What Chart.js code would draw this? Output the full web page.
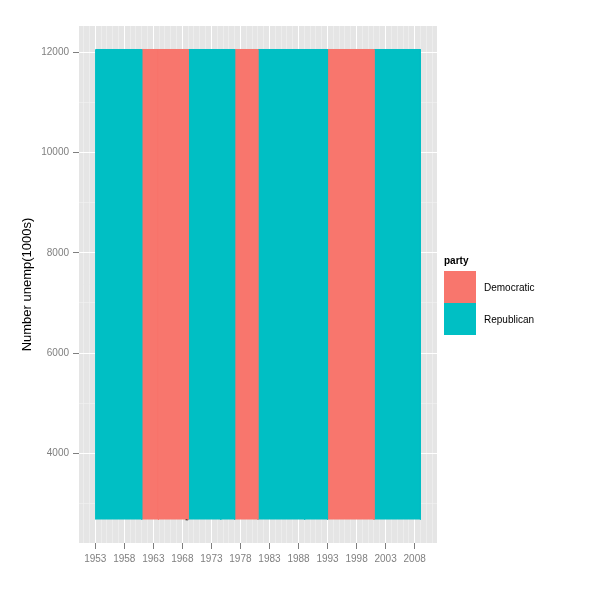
<!DOCTYPE html>
<html>
<head>
<meta charset="utf-8">
<script src="https://cdn.jsdelivr.net/npm/chart.js@4"></script>
<style>
  body { margin: 0; background: #fff; }
  #wrap { position: relative; width: 600px; height: 600px; }
  #legend { position: absolute; left: 444px; top: 255px; font-family: "Liberation Sans", Arial, sans-serif; }
  #legend .ttl { font-size: 10px; font-weight: bold; color: #000; margin-bottom: 5px; }
  #legend .row { display: flex; align-items: center; height: 32px; }
  #legend .key { width: 32px; height: 32px; }
  #legend .lab { font-size: 10px; color: #000; margin-left: 8px; }
</style>
</head>
<body>
<div id="wrap">
  <canvas id="myChart" width="600" height="600"></canvas>
  <div id="legend"></div>
</div>
<script>
// presidential terms (start/end as decimal years) and party
let termStart = [1953.05, 1961.0, 1963.89, 1969.0, 1974.61, 1977.0, 1981.0, 1989.05, 1993.0, 2001.0];
let termEnd   = [1961.0, 1963.89, 1969.0, 1974.61, 1977.0, 1981.0, 1989.05, 1993.0, 2001.0, 2009.0];
let termParty = ['Republican', 'Democratic', 'Democratic', 'Republican', 'Republican', 'Democratic', 'Republican', 'Republican', 'Democratic', 'Republican'];
let unempMin = 2685;
let unempMax = 12051;
let parties = ['Democratic', 'Republican'];
let partyColors = {'Democratic': '#F8766D', 'Republican': '#00BFC4'};
let xTickYears = [1953, 1958, 1963, 1968, 1973, 1978, 1983, 1988, 1993, 1998, 2003, 2008];
let yTickLabels = [4000, 6000, 8000, 10000, 12000];
// bit of the unemployment line poking out under the rectangles
let lineX = [1968.55, 1969.0];
let lineY = [2685, 2685];

let datasets = [];
for (let i = 0; i < termStart.length; i++) {
  datasets.push({
    label: termParty[i],
    // outline of the rectangle so the same-colour stroke hides seams
    data: [
      {x: termStart[i], y: unempMin},
      {x: termStart[i], y: unempMax},
      {x: termEnd[i], y: unempMax},
      {x: termEnd[i], y: unempMin}
    ],
    fill: {value: unempMin},
    backgroundColor: partyColors[termParty[i]],
    borderColor: partyColors[termParty[i]],
    borderWidth: 1,
    pointRadius: 0,
    order: 1
  });
}
datasets.push({
  label: 'unemploy',
  data: lineX.map((x, i) => ({x: x, y: lineY[i]})),
  borderColor: '#000',
  borderWidth: 1.5,
  pointRadius: 0,
  fill: false,
  order: 5
});

let panelBg = {
  id: 'panelBg',
  beforeDraw(chart) {
    let a = chart.chartArea, c = chart.ctx;
    c.save();
    c.fillStyle = '#E5E5E5';
    c.fillRect(a.left, a.top, a.right - a.left, a.bottom - a.top);
    c.restore();
  }
};

let xAll = [];
for (let y = 1951; y <= 2011; y++) xAll.push(y);
let yAll = [];
for (let v = 3000; v <= 12000; v += 1000) yAll.push(v);

let ctx = document.getElementById('myChart').getContext('2d');
let myChart = new Chart(ctx, {
  type: 'line',
  data: { datasets: datasets },
  plugins: [panelBg],
  options: {
    responsive: false,
    animation: false,
    layout: { padding: { top: 26, right: 163, left: 0, bottom: 0 } },
    plugins: { legend: { display: false }, tooltip: { enabled: false } },
    scales: {
      x: {
        type: 'linear',
        min: 1950.2, max: 2011.85,
        afterBuildTicks: s => { s.ticks = xAll.map(v => ({value: v})); },
        afterFit: s => { s.height = 57; },
        border: { display: false },
        grid: {
          color: c => xTickYears.includes(c.tick.value) ? '#FFFFFF' : '#F2F2F2',
          lineWidth: c => xTickYears.includes(c.tick.value) ? 1 : 0.6,
          tickColor: c => xTickYears.includes(c.tick.value) ? '#7F7F7F' : 'rgba(0,0,0,0)',
          tickLength: 6,
          drawTicks: true
        },
        ticks: {
          autoSkip: false, maxRotation: 0, padding: 4,
          color: '#7F7F7F',
          font: { family: 'Liberation Sans', size: 10 },
          callback: v => xTickYears.includes(v) ? String(v) : ''
        }
      },
      y: {
        min: 2217, max: 12519,
        afterBuildTicks: s => { s.ticks = yAll.map(v => ({value: v})); },
        afterFit: s => { s.width = 79; },
        border: { display: false },
        grid: {
          color: c => yTickLabels.includes(c.tick.value) ? '#FFFFFF' : '#F2F2F2',
          lineWidth: c => yTickLabels.includes(c.tick.value) ? 1 : 0.6,
          tickColor: c => yTickLabels.includes(c.tick.value) ? '#7F7F7F' : 'rgba(0,0,0,0)',
          tickLength: 6
        },
        ticks: {
          autoSkip: false, padding: 4,
          color: '#7F7F7F',
          font: { family: 'Liberation Sans', size: 10 },
          callback: v => yTickLabels.includes(v) ? String(v) : ''
        },
        title: {
          display: true,
          text: 'Number unemp(1000s)',
          color: '#000',
          font: { family: 'Liberation Sans', size: 13 },
          padding: { top: 20, bottom: 0 }
        }
      }
    }
  }
});

// legend
let lg = document.getElementById('legend');
let html = '<div class="ttl">party</div>';
parties.forEach(p => {
  html += '<div class="row"><div class="key" style="background:' + partyColors[p] + '"></div><div class="lab">' + p + '</div></div>';
});
lg.innerHTML = html;
</script>
</body>
</html>
